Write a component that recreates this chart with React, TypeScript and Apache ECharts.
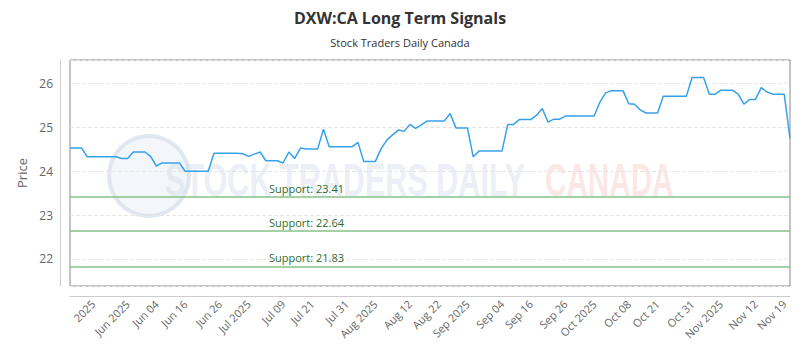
import React, { useEffect, useRef } from "react";
import * as echarts from "echarts";

// Daily closing prices
const prices: number[] = [
  24.53, 24.53, 24.53, 24.33, 24.33, 24.33, 24.33, 24.33, 24.33, 24.29,
  24.29, 24.44, 24.44, 24.44, 24.34, 24.12, 24.19, 24.19, 24.19, 24.19,
  24.0, 24.0, 24.0, 24.0, 24.0, 24.41, 24.41, 24.41, 24.41, 24.41,
  24.4, 24.34, 24.39, 24.44, 24.24, 24.24, 24.24, 24.19, 24.44, 24.29,
  24.53, 24.51, 24.51, 24.51, 24.96, 24.56, 24.56, 24.56, 24.56, 24.56,
  24.66, 24.22, 24.22, 24.22, 24.51, 24.71, 24.83, 24.94, 24.91, 25.07,
  24.98, 25.06, 25.15, 25.15, 25.15, 25.15, 25.32, 24.99, 24.99, 24.99,
  24.33, 24.46, 24.46, 24.46, 24.46, 24.46, 25.07, 25.07, 25.18, 25.18,
  25.18, 25.28, 25.43, 25.12, 25.19, 25.19, 25.26, 25.26, 25.26, 25.26,
  25.26, 25.26, 25.58, 25.79, 25.84, 25.84, 25.84, 25.54, 25.53, 25.4,
  25.33, 25.33, 25.33, 25.71, 25.71, 25.71, 25.71, 25.71, 26.14, 26.14,
  26.14, 25.76, 25.76, 25.85, 25.85, 25.85, 25.76, 25.53, 25.64, 25.64,
  25.91, 25.81, 25.76, 25.76, 25.76, 24.75,
];

// X-axis tick labels and the data index each one sits on
const tickLabels: string[] = [
  "2025", "Jun 2025", "Jun 04", "Jun 16", "Jun 26", "Jul 2025", "Jul 09",
  "Jul 21", "Jul 31", "Aug 2025", "Aug 12", "Aug 22", "Sep 2025", "Sep 04",
  "Sep 16", "Sep 26", "Oct 2025", "Oct 08", "Oct 21", "Oct 31", "Nov 2025",
  "Nov 12", "Nov 19",
];
const tickIndices: number[] = [
  4, 10, 15, 20, 26, 31, 37, 42, 48, 53, 59, 64, 69, 75, 80, 86, 91, 97, 102,
  108, 113, 119, 124,
];

// Support levels
const supportLevels: number[] = [23.41, 22.64, 21.83];

const Y_MIN = 21.38;
const Y_MAX = 26.54;

export default function App() {
  const ref = useRef<HTMLDivElement>(null);

  useEffect(() => {
    if (!ref.current) return;
    const chart = echarts.init(ref.current, undefined, { renderer: "svg" });
    const categories = prices.map((_, i) => String(i));
    const labelAt: Record<number, string> = {};
    tickIndices.forEach((idx, k) => {
      labelAt[idx] = tickLabels[k];
    });
    const font = "Open Sans";
    const wmFont = "bold 46px 'Liberation Sans', Arial, sans-serif";

    chart.setOption({
      animation: false,
      backgroundColor: "#ffffff",
      textStyle: { fontFamily: font },
      title: [
        {
          text: "DXW:CA Long Term Signals",
          left: "center",
          top: 5,
          textStyle: { fontSize: 16, fontWeight: "bold", color: "#333", fontFamily: font },
        },
        {
          text: "Stock Traders Daily Canada",
          left: "center",
          top: 32,
          textStyle: { fontSize: 11, fontWeight: "normal", color: "#333", fontFamily: font },
        },
      ],
      graphic: [
        {
          type: "group",
          silent: true,
          z: -10,
          children: [
            {
              type: "circle",
              shape: { cx: 149, cy: 176, r: 40 },
              style: { fill: "rgba(215,225,238,0.3)", stroke: "rgba(200,212,228,0.5)", lineWidth: 4 },
            },
            {
              type: "text",
              x: 165,
              y: 180,
              scaleX: 0.665,
              style: {
                text: "STOCK TRADERS DAILY",
                font: wmFont,
                fill: "rgba(205,214,230,0.4)",
                verticalAlign: "middle",
              },
            },
            {
              type: "text",
              x: 545,
              y: 180,
              scaleX: 0.645,
              style: {
                text: "CANADA",
                font: wmFont,
                fill: "rgba(245,170,170,0.28)",
                verticalAlign: "middle",
              },
            },
          ],
        },
      ],
      grid: {
        left: 70,
        right: 10,
        top: 60,
        bottom: 64,
        show: true,
        borderColor: "#888",
        borderWidth: 1,
        containLabel: false,
      },
      xAxis: {
        type: "category",
        data: categories,
        boundaryGap: false,
        offset: 10,
        axisLine: { show: true, lineStyle: { color: "#ccc" } },
        axisTick: { show: false },
        splitLine: { show: false },
        axisLabel: {
          rotate: 45,
          fontSize: 11,
          color: "#666",
          margin: 6,
          interval: (index: number) => labelAt[index] !== undefined,
          formatter: (_v: string, index: number) => labelAt[index] ?? "",
        },
      },
      yAxis: {
        type: "value",
        min: Y_MIN,
        max: Y_MAX,
        offset: 10,
        name: "Price",
        nameLocation: "middle",
        nameGap: 23,
        nameTextStyle: { fontSize: 13, color: "#666" },
        axisLine: { show: true, lineStyle: { color: "#ccc" } },
        axisTick: { show: false },
        axisLabel: {
          fontSize: 12,
          color: "#666",
          margin: 7,
          showMinLabel: false,
          showMaxLabel: false,
          formatter: (v: number) => (Math.abs(v - Math.round(v)) < 1e-6 ? String(Math.round(v)) : ""),
        },
        splitLine: { show: true, lineStyle: { color: "#e6e6e6", type: "dashed" } },
      },
      series: [
        {
          type: "line",
          data: prices,
          showSymbol: false,
          symbol: "none",
          lineStyle: { color: "#36a2eb", width: 1.5 },
          itemStyle: { color: "#36a2eb" },
          z: 5,
          markLine: {
            silent: true,
            symbol: ["none", "none"],
            lineStyle: { color: "#86c286", width: 1.5, type: "solid" },
            label: {
              show: true,
              position: "insideStartTop",
              distance: [199, 3],
              color: "#2e6e2e",
              fontSize: 11,
              formatter: (p: any) => "Support: " + p.value.toFixed(2),
            },
            data: supportLevels.map((v) => ({ yAxis: v })),
          },
        },
      ],
    });
    return () => chart.dispose();
  }, []);

  return (
    <div
      ref={ref}
      style={{ position: "absolute", left: 0, top: 0, width: 800, height: 350 }}
    />
  );
}
